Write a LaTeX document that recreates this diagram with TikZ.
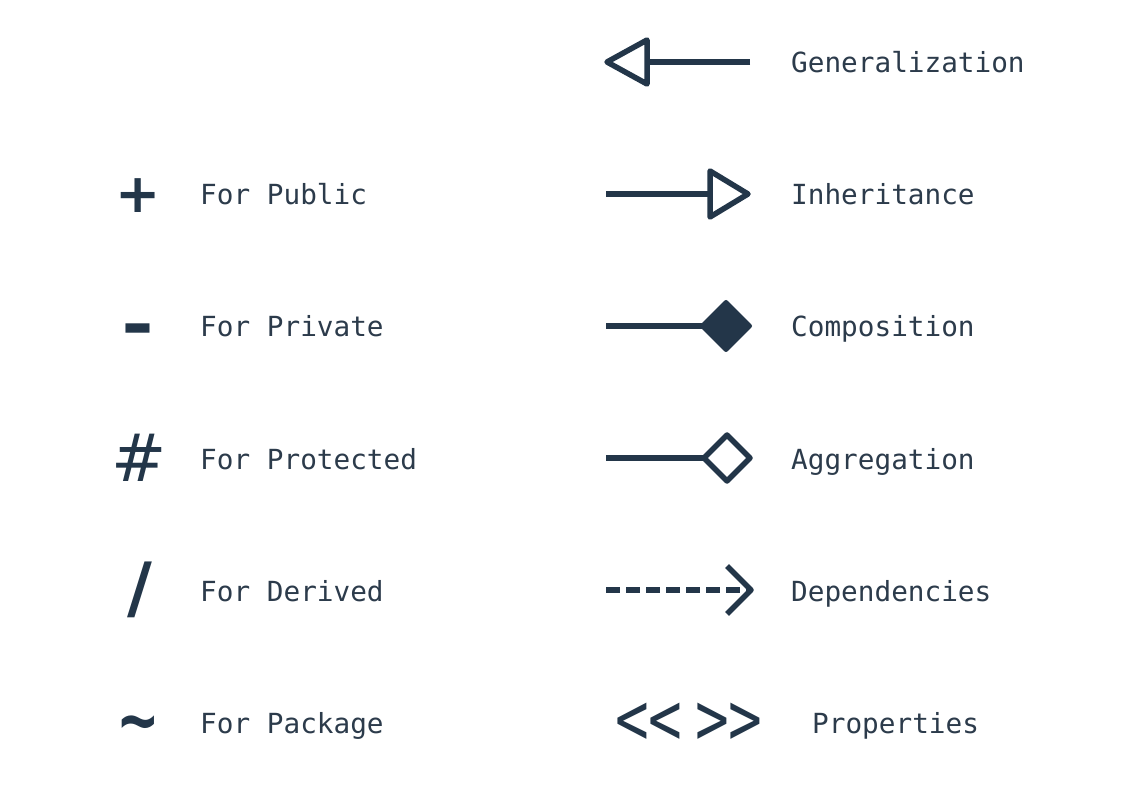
\documentclass[tikz,border=0pt]{standalone}
\usepackage{fontspec}
\setmonofont{DejaVu Sans Mono}
\newfontfamily\symfont{DejaVu Sans}
\newfontfamily\symmono{DejaVu Sans Mono}
\definecolor{ink}{HTML}{233649}
\definecolor{txt}{HTML}{2C3B4B}
\begin{document}
\begin{tikzpicture}[x=1pt,y=-1pt,
  lbl/.style={anchor=base west, inner sep=0pt, font=\fontsize{27.7}{30}\ttfamily, text=txt},
  sym/.style={inner sep=0pt, text=ink},
  conn/.style={draw=ink, line width=5.5pt, line join=round},
  head/.style={draw=ink, line width=5.5pt, line join=round, fill=white},
  solidhead/.style={draw=ink, line width=4pt, line join=round, fill=ink},
]
\useasboundingbox[fill=white] (0,0) rectangle (1122,791);

% left column symbols
\node[sym, font=\fontsize{54}{56}\symfont\bfseries] (plus) at (138,196) {+};
\node[sym, font=\fontsize{60}{62}\symmono\bfseries] (minus) at (138,336) {\scalebox{1.3}[1.1]{-}};
\node[sym, font=\fontsize{66}{68}\symfont] (hash) at (139,458) {\#};
\node[sym, font=\fontsize{68}{70}\symfont\bfseries] (slash) at (140,590) {/};
\node[sym, font=\fontsize{50}{52}\symmono\bfseries] (tilde) at (138,731) {\scalebox{1.25}[1.5]{\char`\~}};

% left column labels
\node[lbl] (public) at (200,205) {For Public};
\node[lbl] (private) at (200,337) {For Private};
\node[lbl] (protected) at (200,469) {For Protected};
\node[lbl] (derived) at (200,601) {For Derived};
\node[lbl] (package) at (200,733) {For Package};

% right column labels
\node[lbl] (gen) at (791,73) {Generalization};
\node[lbl] (inh) at (791,205) {Inheritance};
\node[lbl] (comp) at (791,337) {Composition};
\node[lbl] (aggr) at (791,469) {Aggregation};
\node[lbl] (dep) at (791,601) {Dependencies};
\node[lbl] (prop) at (812,733) {Properties};

% properties chevrons
\node[sym, anchor=west, font=\fontsize{55}{57}\symmono] (ll) at (615,724) {\scalebox{1.02}[1.35]{<<}};
\node[sym, anchor=west, font=\fontsize{55}{57}\symmono] (gg) at (695,724) {\scalebox{1.02}[1.35]{>>}};

% Generalization
\coordinate (g1) at (750,62);
\coordinate (g2) at (647,62);
\draw[conn] (g1) -- (g2);
\draw[head] (647,40) -- (607,62) -- (647,84) -- cycle;

% Inheritance
\coordinate (i1) at (606,194);
\coordinate (i2) at (710,194);
\draw[conn] (i1) -- (i2);
\draw[head] (710,171) -- (748,194) -- (710,217) -- cycle;

% Composition
\coordinate (c1) at (606,326);
\coordinate (c2) at (702,326);
\draw[conn] (c1) -- (c2);
\draw[solidhead] (702,326) -- (726,302) -- (750,326) -- (726,350) -- cycle;

% Aggregation
\coordinate (a1) at (606,458);
\coordinate (a2) at (704,458);
\draw[conn] (a1) -- (a2);
\draw[head] (704,458) -- (727,435) -- (750,458) -- (727,481) -- cycle;

% Dependencies
\coordinate (d1) at (606,590);
\coordinate (d2) at (748,590);
\draw[conn, dash pattern=on 14pt off 6pt] (d1) -- (d2);
\draw[conn] (727,566) -- (751,590) -- (727,614);
\end{tikzpicture}
\end{document}
